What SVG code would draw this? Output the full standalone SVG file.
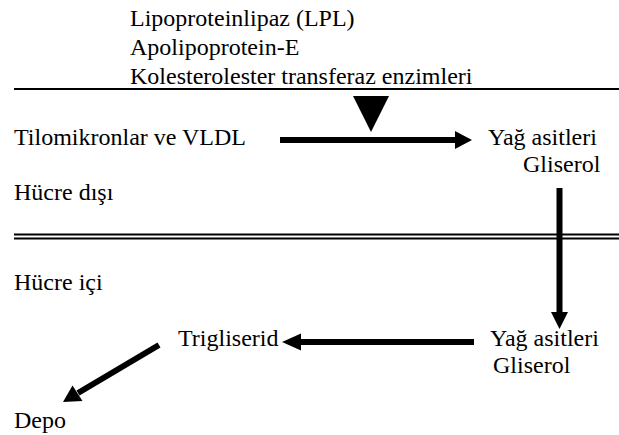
<svg xmlns="http://www.w3.org/2000/svg" width="619" height="435" viewBox="0 0 619 435">
<style>
text{font-family:'Liberation Serif','Times New Roman','DejaVu Serif',serif;font-size:24px;fill:#000}
.sh{stroke:#000;stroke-width:6;fill:none}
.hd{fill:#000;stroke:none}
.bd{stroke:#000;fill:none}
</style>
<rect width="619" height="435" fill="#fff"/>
<g id="boundaries">
<line class="bd" x1="14" y1="89" x2="619" y2="89" stroke-width="2"/>
<line class="bd" x1="14" y1="234.5" x2="619" y2="234.5" stroke-width="1.8"/>
<line class="bd" x1="14" y1="238.5" x2="619" y2="238.5" stroke-width="1.8"/>
</g>
<g font-family="Liberation Serif, serif">
<g id="enzymes">
<text x="130" y="26">Lipoproteinlipaz (LPL)</text>
<text x="130" y="55">Apolipoprotein-E</text>
<text x="130" y="84">Kolesterolester transferaz enzimleri</text>
</g>
<g id="chylomicrons"><text x="14" y="145">Tilomikronlar ve VLDL</text></g>
<g id="fa-out"><text x="488" y="145">Yağ asitleri</text><text x="523" y="172">Gliserol</text></g>
<g id="label-out"><text x="14" y="200">Hücre dışı</text></g>
<g id="label-in"><text x="14" y="290">Hücre içi</text></g>
<g id="triglyceride"><text x="178" y="346">Trigliserid</text></g>
<g id="fa-in"><text x="490" y="346">Yağ asitleri</text><text x="493" y="373">Gliserol</text></g>
<g id="depot"><text x="14" y="428">Depo</text></g>
</g>
<g id="connectors">
<polygon class="hd" points="353,96 389,96 371,132"/>
<line class="sh" x1="280" y1="140" x2="456" y2="140"/>
<polygon class="hd" points="455,131 472,140 455,149"/>
<line class="sh" x1="559.5" y1="188" x2="559.5" y2="313"/>
<polygon class="hd" points="551,312 568,312 559.5,329"/>
<line class="sh" x1="474" y1="342" x2="300" y2="342"/>
<polygon class="hd" points="301,333.5 282,342 301,350.5"/>
<line class="sh" x1="159" y1="345" x2="78" y2="393"/>
<polygon class="hd" points="82.5,401 72.5,385.5 63,402"/>
</g>
</svg>
